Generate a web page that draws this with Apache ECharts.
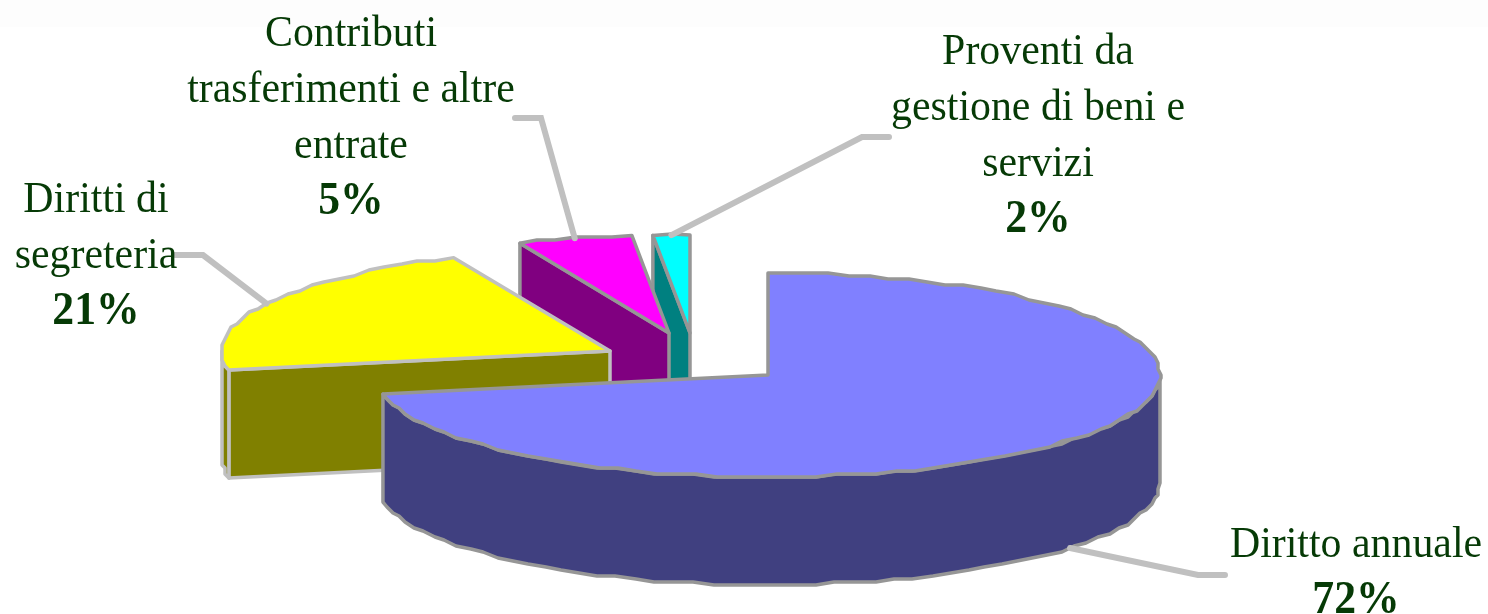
<!DOCTYPE html>
<html>
<head>
<meta charset="utf-8">
<style>html,body{margin:0;padding:0;background:#fff}#c{width:1488px;height:614px}</style>
<script src="https://cdn.jsdelivr.net/npm/echarts@6/dist/echarts.min.js"></script>
</head>
<body>
<div id="c"></div>
<script>
// Data (slices run clockwise from 12 o'clock)
const categories = ['Diritto annuale', 'Diritti di segreteria', 'Contributi trasferimenti e altre entrate', 'Proventi da gestione di beni e servizi'];
const categoryLines = [['Diritto annuale'], ['Diritti di', 'segreteria'], ['Contributi', 'trasferimenti e altre', 'entrate'], ['Proventi da', 'gestione di beni e', 'servizi']];
const values = [72, 21.4, 5, 1.6];

// Styles
const topColors = ['#8080FF', '#FFFF00', '#FF00FF', '#00FFFF'];
const wallColors = ['#404080', '#808000', '#800080', '#008080'];
const edgeColors = ['#969696', '#C0C0C0', '#969696', '#969696'];

// Layout of the exploded 3D pie
const DEPTH = 108;
const GRID = 3;   // the rim is snapped to a coarse grid, like the low-resolution original
const apexes = [[768, 375, 392, 102], [610, 351, 388, 102], [669, 333, 370, 98], [690, 333, 370, 98]];
const labelBoxes = [[1356, 573], [96, 256], [351, 118], [1038, 136]];
const leaderElbows = [[[1198, 575], [1225, 575]], [[203, 255], [175, 255]], [[541, 118], [515, 118]], [[862, 137], [889, 137]]];

const total = values.reduce((a, b) => a + b, 0);
function spans() {
  let acc = 0;
  return values.map(v => { const s = acc / total * 360; acc += v; return [s, acc / total * 360]; });
}
function pt(g, deg, drop) {
  const r = deg * Math.PI / 180;
  return [g[0] + g[2] * Math.sin(r), g[1] - g[3] * Math.cos(r) + (drop || 0)];
}
function arc(g, a, b, drop) {
  const n = Math.max(2, Math.ceil(Math.abs(b - a) / 3)), out = [];
  for (let k = 0; k <= n; k++) {
    const p = pt(g, a + (b - a) * k / n, 0);
    const snap = k > 0 && k < n;
    out.push([snap ? Math.round(p[0] / GRID) * GRID : p[0], (snap ? Math.round(p[1] / GRID) * GRID : p[1]) + (drop || 0)]);
  }
  return out;
}
function poly(points, fill, stroke, z2) {
  return { type: 'polygon', z2, shape: { points }, style: { fill, stroke, lineWidth: 3.5, lineJoin: 'round' }, silent: true };
}

function renderSlice(params, api) {
  const i = params.dataIndex;
  const [start, end] = spans()[api.value(0)];
  const g = apexes[i];
  const base = 100 * (values.length - i);
  const kids = [];
  const stroke = edgeColors[i], wall = wallColors[i];
  const radial = deg => {
    const e = pt(g, deg);
    return poly([[g[0], g[1]], e, [e[0], e[1] + DEPTH], [g[0], g[1] + DEPTH]], wall, stroke, base);
  };
  if (start > 180 && start < 360) kids.push(radial(start));
  if (end > 0 && end < 180) kids.push(radial(end));
  const wa = Math.max(start, 90), wb = Math.min(end, 270);
  if (wb > wa) {
    kids.push(poly(arc(g, wa, wb, 0).concat(arc(g, wb, wa, DEPTH)), wall, stroke, base + 1));
  }
  kids.push(poly([[g[0], g[1]]].concat(arc(g, start, end, 0)), topColors[i], stroke, base + 2));

  // leader line from the middle of the slice's rim to the label
  const mid = (start + end) / 2;
  const rim = pt(g, mid, mid > 90 && mid < 270 ? DEPTH : 0);
  kids.push({
    type: 'polyline', z2: 1000, silent: true,
    shape: { points: [rim].concat(leaderElbows[i]) },
    style: { fill: 'none', stroke: '#C0C0C0', lineWidth: 6, lineCap: 'round', lineJoin: 'miter' }
  });

  // label
  const textLines = categoryLines[i].map(l => '{n|' + l + '}');
  textLines.push('{b|' + Math.round(api.value(1) / total * 100) + '%}');
  kids.push({
    type: 'text', z2: 1001, silent: true,
    x: labelBoxes[i][0], y: labelBoxes[i][1], scaleX: 0.93,
    style: {
      text: textLines.join('\n'),
      align: 'center', verticalAlign: 'middle',
      rich: {
        n: { font: '45px "Liberation Serif"', fill: '#063A06', lineHeight: 56, align: 'center' },
        b: { font: 'bold 47px "Liberation Serif"', fill: '#063A06', lineHeight: 56, align: 'center' }
      }
    }
  });
  return { type: 'group', children: kids };
}

const chart = echarts.init(document.getElementById('c'), null, { renderer: 'canvas' });
chart.setOption({
  animation: false,
  backgroundColor: '#ffffff',
  graphic: [{ type: 'rect', z: -10, silent: true, shape: { x: 0, y: 0, width: 1488, height: 27 }, style: { fill: '#FDFDFD' } }],
  series: [{
    type: 'custom',
    name: 'Entrate',
    coordinateSystem: 'none',
    renderItem: renderSlice,
    data: values.map((v, i) => ({ name: categories[i], value: [i, v] })),
    dimensions: ['index', 'value'],
    silent: true
  }]
});
</script>
</body>
</html>
